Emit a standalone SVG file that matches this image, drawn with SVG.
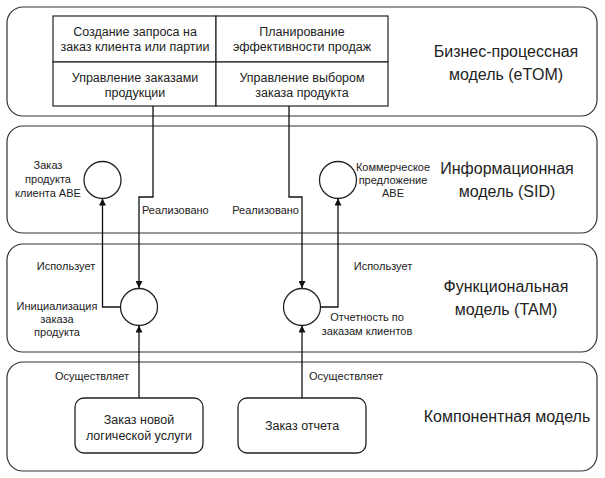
<svg xmlns="http://www.w3.org/2000/svg" width="605" height="478" viewBox="0 0 605 478">
<defs>
<style>
.layer{fill:#fff;stroke:#333;stroke-width:1.2}
.cell{fill:#fff;stroke:#222;stroke-width:1.2}
.node{fill:#fff;stroke:#222;stroke-width:1.3}
.con{fill:none;stroke:#111;stroke-width:1.3}
text{font-family:"Liberation Sans",Arial,sans-serif;fill:#222}
.big{font-size:16px;text-anchor:middle}
.cellt{font-size:12.5px;text-anchor:middle}
.lbl{font-size:11px}
.mid{text-anchor:middle}
.end{text-anchor:end}
</style>
<marker id="arr" viewBox="0 0 10 10" refX="10" refY="5" markerWidth="7" markerHeight="7" orient="auto" markerUnits="userSpaceOnUse">
<path d="M0,0 L10,5 L0,10 z" fill="#111"/>
</marker>
</defs>
<rect width="605" height="478" fill="#fff"/>

<g id="layer-etom">
<rect class="layer" x="7" y="7" width="590" height="109" rx="16"/>
<text class="big" x="506" y="57">Бизнес-процессная</text>
<text class="big" x="506" y="80">модель (eTOM)</text>
</g>
<g id="layer-sid">
<rect class="layer" x="7" y="126" width="590" height="107" rx="16"/>
<text class="big" x="507" y="174">Информационная</text>
<text class="big" x="507" y="197">модель (SID)</text>
</g>
<g id="layer-tam">
<rect class="layer" x="7" y="244" width="590" height="108" rx="16"/>
<text class="big" x="506" y="292">Функциональная</text>
<text class="big" x="506" y="315">модель (TAM)</text>
</g>
<g id="layer-comp">
<rect class="layer" x="7" y="362" width="590" height="109" rx="16"/>
<text class="big" x="507" y="422">Компонентная модель</text>
</g>

<g id="etom-table">
<g id="cell-1">
<rect class="cell" x="53" y="16" width="163" height="46"/>
<text class="cellt" x="135" y="36">Создание запроса на</text>
<text class="cellt" x="135" y="51">заказ клиента или партии</text>
</g>
<g id="cell-2">
<rect class="cell" x="216" y="16" width="172" height="46"/>
<text class="cellt" x="302" y="36">Планирование</text>
<text class="cellt" x="302" y="51">эффективности продаж</text>
</g>
<g id="cell-3">
<rect class="cell" x="53" y="62" width="163" height="44"/>
<text class="cellt" x="135" y="82">Управление заказами</text>
<text class="cellt" x="135" y="97">продукции</text>
</g>
<g id="cell-4">
<rect class="cell" x="216" y="62" width="172" height="44"/>
<text class="cellt" x="302" y="82">Управление выбором</text>
<text class="cellt" x="302" y="97">заказа продукта</text>
</g>
</g>

<g id="sid-abe-order">
<circle class="node" cx="102.5" cy="180" r="18.5"/>
<text class="lbl mid" x="48" y="169">Заказ</text>
<text class="lbl mid" x="48" y="183">продукта</text>
<text class="lbl mid" x="48" y="197">клиента ABE</text>
</g>
<g id="sid-abe-offer">
<circle class="node" cx="338" cy="180" r="18.5"/>
<text class="lbl mid" x="393" y="171">Коммерческое</text>
<text class="lbl mid" x="393" y="184">предложение</text>
<text class="lbl mid" x="393" y="197">ABE</text>
</g>
<g id="tam-init">
<circle class="node" cx="139" cy="307" r="18.5"/>
<text class="lbl mid" x="57" y="310">Инициализация</text>
<text class="lbl mid" x="57" y="323">заказа</text>
<text class="lbl mid" x="57" y="336">продукта</text>
</g>
<g id="tam-report">
<circle class="node" cx="302" cy="307" r="18.5"/>
<text class="lbl mid" x="367" y="321">Отчетность по</text>
<text class="lbl mid" x="367" y="335">заказам клиентов</text>
</g>
<g id="comp-new">
<rect class="node" x="75" y="398" width="128" height="55" rx="9"/>
<text class="cellt" x="139" y="424">Заказ новой</text>
<text class="cellt" x="139" y="440">логической услуги</text>
</g>
<g id="comp-report">
<rect class="node" x="238" y="398" width="128" height="55" rx="9"/>
<text class="cellt" x="302" y="430">Заказ отчета</text>
</g>

<g id="connectors">
<path class="con" d="M153,106 V197 H139 V288" marker-end="url(#arr)"/>
<path class="con" d="M289,106 V197 H302 V288" marker-end="url(#arr)"/>
<path class="con" d="M120.5,307 H102.5 V198.5" marker-end="url(#arr)"/>
<path class="con" d="M320.5,307 H338 V198.5" marker-end="url(#arr)"/>
<path class="con" d="M139,398 V325.5" marker-end="url(#arr)"/>
<path class="con" d="M302,398 V325.5" marker-end="url(#arr)"/>
<text class="lbl" x="142" y="214">Реализовано</text>
<text class="lbl end" x="299" y="214">Реализовано</text>
<text class="lbl mid" x="66" y="270">Использует</text>
<text class="lbl mid" x="383" y="270">Использует</text>
<text class="lbl mid" x="92" y="380">Осуществляет</text>
<text class="lbl mid" x="346" y="380">Осуществляет</text>
</g>
</svg>
